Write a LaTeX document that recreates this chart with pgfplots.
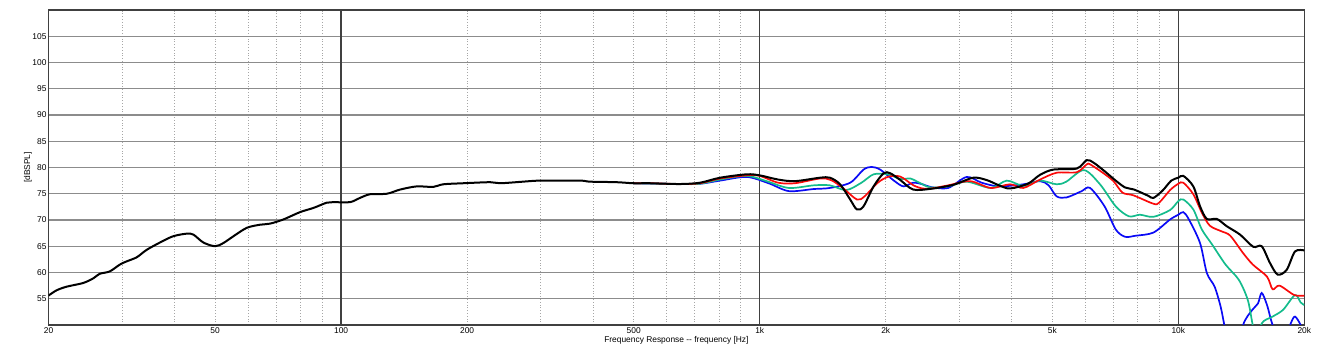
\documentclass[border=0pt]{standalone}
\usepackage{fontspec}
\setmainfont{Liberation Sans}
\usepackage{pgfplots}
\pgfplotsset{compat=1.18}
\definecolor{cgreen}{RGB}{20,188,140}
\definecolor{cblue}{RGB}{10,10,245}
\definecolor{cred}{RGB}{250,10,10}
\definecolor{omni}{RGB}{40,40,220}
\begin{document}
\begin{tikzpicture}
\path[use as bounding box] (-24.25pt,-18.5pt) rectangle (634.25pt,162.5pt);
\begin{axis}[
  at={(0,0)}, anchor=south west,
  scale only axis, width=627.9pt, height=157.5pt,
  xmode=log, xmin=20, xmax=20000, ymin=50, ymax=110,
  font=\fontsize{4.2}{5}\selectfont,
  /pgf/number format/assume math mode=true,
  xtick={20,50,100,200,500,1000,2000,5000,10000,20000},
  xticklabels={20,50,100,200,500,1k,2k,5k,10k,20k},
  minor xtick={30,40,50,60,70,80,90,200,300,400,500,600,700,800,900,2000,3000,4000,5000,6000,7000,8000,9000},
  ytick={55,60,...,105},
  major tick length=0pt, minor tick length=0pt,
  xmajorgrids=false, xminorgrids=true, ymajorgrids=true,
  minor grid style={densely dotted, color=black!35, line width=0.4pt},
  major grid style={color=black!45, line width=0.55pt},
  extra x ticks={100,1000,10000}, extra x tick labels={},
  extra x tick style={grid=major, major grid style={color=black!75, line width=0.7pt}},
  axis line style={color=black!75, line width=0.7pt},
  xticklabel style={anchor=center, yshift=-2.6pt, inner sep=0pt},
  yticklabel style={anchor=east, xshift=-0.8pt, inner sep=0pt},
  xlabel={Frequency Response -{}- frequency [Hz]},
  xlabel style={at={(axis description cs:0.5,-0.0476)}, anchor=center, inner sep=0pt},
  ylabel={[dBSPL]},
  ylabel style={at={(axis description cs:-0.0163,0.5)}, anchor=center, inner sep=0pt},
  clip=true,
  every axis plot/.append style={smooth, tension=0.5},
]
% blue
\addplot[cblue, line width=0.85pt] coordinates {
(500,77.0)(645,76.85)(720,76.9)(804,77.5)(931,78.2)(1050,77.0)(1174,75.5)(1346,75.9)(1470,76.1)(1645,77.1)(1770,79.6)(1850,80.1)(1940,79.6)(2100,77.4)(2206,76.4)(2326,77.1)(2450,76.8)(2570,76.25)(2820,76.1)(3122,78.2)(3390,77.1)(3730,76.4)(4264,76.8)(4673,77.4)(4900,76.6)(5120,74.5)(5410,74.3)(5880,75.5)(6155,76.1)(6665,72.6)(7087,68.2)(7461,66.8)(7900,67.0)(8718,67.6)(9557,70.1)(10000,71.0)(10280,71.5)(10600,70.1)(11270,65.6)(11700,59.9)(12210,57.3)(12620,53.5)(12880,50)(13500,42)(14280,50)(15030,52.9)(15500,54.1)(15820,56.1)(16290,53.8)(16800,50)(17700,46)(18560,50.3)(19000,51.6)(19600,50)(20000,48)};
% green
\addplot[cgreen, line width=0.85pt] coordinates {
(500,77.0)(645,76.85)(720,76.9)(804,77.7)(931,78.4)(1038,77.4)(1174,76.1)(1346,76.6)(1470,76.6)(1610,75.7)(1750,77.1)(1871,78.7)(2021,78.7)(2168,77.8)(2291,77.9)(2420,77.0)(2560,76.2)(2820,76.4)(3122,77.3)(3565,76.1)(3893,77.5)(4264,76.5)(4673,77.5)(5120,76.8)(5400,77.3)(5950,79.5)(6500,76.8)(7087,72.6)(7620,70.7)(8100,71.0)(8718,70.6)(9557,71.9)(10000,73.6)(10280,73.9)(10860,72.0)(11380,68.2)(12050,65.3)(12970,61.5)(13950,58.6)(14650,54.8)(15030,50.3)(15400,46)(15820,50.3)(16800,51.6)(17800,52.9)(19000,55.7)(19600,54.3)(20000,53.8)};
% red
\addplot[cred, line width=0.85pt] coordinates {
(500,77.0)(547,77.0)(645,76.85)(720,77.0)(804,77.9)(931,78.5)(1000,78.4)(1107,77.1)(1214,77.0)(1393,77.9)(1480,77.6)(1580,76.1)(1707,73.9)(1780,74.5)(1915,77.1)(2021,78.2)(2128,78.4)(2200,78.0)(2330,76.6)(2450,76.0)(2570,76.0)(2820,76.6)(3180,77.4)(3565,76.1)(3963,76.8)(4264,76.1)(4673,77.7)(5120,79.0)(5720,79.1)(6043,80.6)(6155,80.6)(6600,79.0)(7000,77.4)(7360,75.2)(7811,74.7)(8718,73.1)(9000,73.3)(9557,75.7)(10000,76.9)(10280,77.1)(10860,74.9)(11380,71.4)(11900,68.9)(12720,67.8)(13310,67.0)(14280,63.7)(15070,61.5)(16290,59.2)(16800,56.8)(17450,57.5)(18930,55.7)(20000,55.6)};
% black
\addplot[black, line width=1.0pt] coordinates {
(20,55.6)(20.9,56.6)(22.1,57.3)(24.2,58.0)(25.6,58.9)(26.5,59.75)(28.0,60.2)(29.6,61.5)(30.7,62.1)(32.5,62.9)(34.3,64.3)(36.9,65.7)(39.7,66.9)(42.8,67.4)(44.4,67.2)(46.9,65.7)(50,65.0)(52.3,65.6)(55.3,66.9)(59.5,68.5)(64,69.1)(67.6,69.3)(72.8,70.1)(79.8,71.5)(85.9,72.3)(92.4,73.3)(95.8,73.4)(105,73.4)(110.9,74.2)(117.2,74.9)(128.6,75.0)(138.4,75.8)(151.6,76.4)(166,76.3)(175.4,76.8)(196,77.0)(227,77.2)(240,77.0)(272,77.3)(299,77.5)(372,77.5)(393,77.3)(455,77.2)(499,77.0)(547,77.0)(645,76.85)(720,77.1)(804,78.05)(931,78.7)(1000,78.5)(1107,77.7)(1214,77.4)(1393,78.05)(1472,78.05)(1556,76.8)(1645,73.9)(1707,72.0)(1770,72.6)(1871,76.4)(1977,78.9)(2051,78.9)(2168,77.6)(2326,75.8)(2570,75.95)(2900,76.7)(3238,78.05)(3486,77.6)(3730,76.6)(3963,76.0)(4370,76.9)(4673,78.6)(5027,79.6)(5720,79.8)(6043,81.4)(6280,80.9)(6665,79.3)(7087,77.5)(7461,76.2)(7840,75.8)(8480,74.6)(8720,74.2)(9170,75.6)(9620,77.5)(10000,78.05)(10280,78.4)(10860,76.4)(11270,72.6)(11700,70.2)(12360,70.2)(13060,68.8)(14050,67.2)(15100,64.9)(15820,65.0)(16560,61.8)(17270,59.6)(18150,60.5)(19000,64.0)(20000,64.2)};
\node[anchor=west, inner sep=0pt, text=omni, font=\fontsize{4.6}{5}\selectfont\itshape] at (axis description cs:-0.0171,-0.0937) {OmniMic};
\end{axis}
\end{tikzpicture}
\end{document}
